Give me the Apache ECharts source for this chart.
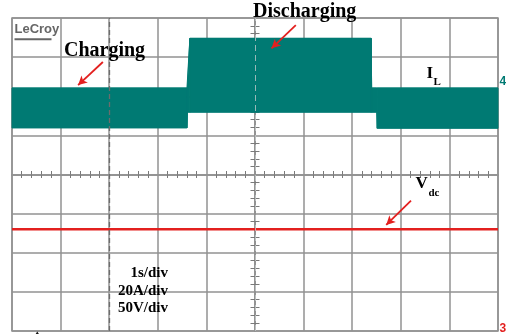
<!DOCTYPE html>
<html>
<head>
<meta charset="utf-8">
<script src="https://cdn.jsdelivr.net/npm/echarts@6/dist/echarts.min.js"></script>
<style>
  html, body { margin: 0; padding: 0; background: #ffffff; }
  #scope { width: 506px; height: 334px; }
</style>
</head>
<body>
<div id="scope"></div>
<script>
// ---- Captured waveforms ----
// Time base (s) of the inductor-current envelope
const timeS  = [0, 3.60, 3.61, 3.66, 7.39, 7.40, 7.505, 7.515, 10.0];
// Inductor current I_L ripple envelope (A): upper and lower edge of the trace
const iLHigh = [0.2, 0.2, 0.2, 25.6, 25.6, 0.2, 0.2, 0.2, 0.2];
const iLLow  = [-20.2, -20.2, -12.2, -12.2, -12.2, -12.2, -12.2, -20.4, -20.4];
// DC-link voltage V_dc (V)
const vdcTime  = [0, 10];
const vdcValue = [130, 130];
// Vertical-scale readouts
const scaleLabels = ['1s/div', '20A/div', '50V/div'];
// Annotation arrows: [tStart, valueStart, tEnd, valueEnd]
const chargingArrow    = [1.87, 13.5, 1.36, 1.7];    // A
const dischargingArrow = [5.84, 32.4, 5.34, 20.5];   // A
const vdcArrow         = [8.21, 166.5, 7.70, 135.5]; // V
const triggerTime = 0.52;

// ---- Scope settings ----
const DIVS_X = 10, DIVS_Y = 8;
const SEC_PER_DIV = 1, AMP_PER_DIV = 20, VOLT_PER_DIV = 50;
const CH4_GROUND_DIV = 1.8;   // current ground, divisions below the top edge
const ampMax = CH4_GROUND_DIV * AMP_PER_DIV;
const ampMin = ampMax - DIVS_Y * AMP_PER_DIV;
const voltMin = 0, voltMax = DIVS_Y * VOLT_PER_DIV;

const GRID_COLOR = '#929292';
const TICK_COLOR = '#7a7a7a';
const TEAL = '#007a73';
const RED = '#e3201f';
const SERIF = '"Liberation Serif", "DejaVu Serif", serif';

const chart = echarts.init(document.getElementById('scope'), null, { renderer: 'canvas' });

const noLabels = { axisLabel: { show: false }, axisTick: { show: false }, splitLine: { show: false } };

function arrowLine(a) {
  return [
    { coord: [a[0], a[1]], symbol: 'none' },
    { coord: [a[2], a[3]], symbol: 'arrow' }
  ];
}

const bandSegments = timeS.slice(1).map((t, i) =>
  [timeS[i], t, iLHigh[i], iLLow[i], iLHigh[i + 1], iLLow[i + 1]]);

chart.setOption({
  animation: false,
  backgroundColor: '#ffffff',
  grid: { left: 12, right: 8, top: 18, bottom: 3, show: true, borderColor: GRID_COLOR, borderWidth: 1.5 },
  xAxis: [
    { // time divisions, center line with downward minor ticks
      type: 'value', min: 0, max: DIVS_X * SEC_PER_DIV, interval: SEC_PER_DIV, position: 'bottom',
      axisLine: { show: true, onZero: true, onZeroAxisIndex: 0, lineStyle: { color: GRID_COLOR, width: 1.5 } },
      axisTick: { show: false }, axisLabel: { show: false },
      minorTick: { show: true, splitNumber: 5, length: 3.5, lineStyle: { color: TICK_COLOR, width: 1 } },
      splitLine: { show: true, lineStyle: { color: GRID_COLOR, width: 1.5 } }
    },
    { // same center line, upward minor ticks
      type: 'value', min: 0, max: DIVS_X * SEC_PER_DIV, interval: SEC_PER_DIV, position: 'top',
      axisLine: { show: true, onZero: true, onZeroAxisIndex: 0, lineStyle: { color: GRID_COLOR, width: 1.5 } },
      axisTick: { show: false }, axisLabel: { show: false }, splitLine: { show: false },
      minorTick: { show: true, splitNumber: 5, length: 3.5, lineStyle: { color: TICK_COLOR, width: 1 } }
    },
    { // horizontal divisions centered on zero, used to place the vertical center line
      type: 'value', show: false, min: -DIVS_X / 2, max: DIVS_X / 2, ...noLabels
    }
  ],
  yAxis: [
    {
      type: 'value', min: -DIVS_Y / 2, max: DIVS_Y / 2, interval: 1, position: 'left',
      axisLine: { show: true, onZero: true, onZeroAxisIndex: 2, lineStyle: { color: GRID_COLOR, width: 1.5 } },
      axisTick: { show: false }, axisLabel: { show: false },
      minorTick: { show: true, splitNumber: 5, length: 4.5, lineStyle: { color: TICK_COLOR, width: 1 } },
      splitLine: { show: true, lineStyle: { color: GRID_COLOR, width: 1.5 } }
    },
    {
      type: 'value', min: -DIVS_Y / 2, max: DIVS_Y / 2, interval: 1, position: 'right',
      axisLine: { show: true, onZero: true, onZeroAxisIndex: 2, lineStyle: { color: GRID_COLOR, width: 1.5 } },
      axisTick: { show: false }, axisLabel: { show: false }, splitLine: { show: false },
      minorTick: { show: true, splitNumber: 5, length: 4.5, lineStyle: { color: TICK_COLOR, width: 1 } }
    },
    { type: 'value', show: false, min: ampMin, max: ampMax, ...noLabels },   // current, A
    { type: 'value', show: false, min: voltMin, max: voltMax, ...noLabels }  // voltage, V
  ],
  series: [
    {
      name: 'I_L', type: 'custom', xAxisIndex: 0, yAxisIndex: 2, z: 2,
      encode: { x: [0, 1], y: [2, 3, 4, 5] },
      data: bandSegments,
      renderItem(params, api) {
        const t0 = api.value(0), t1 = api.value(1);
        const pts = [
          api.coord([t0, api.value(2)]), api.coord([t1, api.value(4)]),
          api.coord([t1, api.value(5)]), api.coord([t0, api.value(3)])
        ];
        return { type: 'polygon', shape: { points: pts }, style: { fill: TEAL, stroke: TEAL, lineWidth: 1 } };
      }
    },
    {
      name: 'I_L edge', type: 'line', xAxisIndex: 0, yAxisIndex: 2, z: 3,
      data: timeS.map((t, i) => [t, iLHigh[i]]),
      symbol: 'none', lineStyle: { color: TEAL, width: 1 },
      markLine: {
        silent: true, animation: false, symbol: ['none', 'none'], symbolSize: [7, 9],
        label: { show: false },
        lineStyle: { color: RED, width: 1.8, type: 'solid' },
        data: [
          arrowLine(chargingArrow),
          arrowLine(dischargingArrow),
          { xAxis: 2, lineStyle: { color: '#6c6c6c', width: 1.3, type: [5, 3] } },
          { xAxis: 5, lineStyle: { color: 'rgba(200,205,205,0.75)', width: 1, type: [6, 4] } }
        ]
      }
    },
    {
      name: 'V_dc', type: 'line', xAxisIndex: 0, yAxisIndex: 3, z: 4,
      data: vdcTime.map((t, i) => [t, vdcValue[i]]),
      symbol: 'none', lineStyle: { color: RED, width: 2.5 },
      markLine: {
        silent: true, animation: false, symbol: ['none', 'none'], symbolSize: [7, 9],
        label: { show: false },
        lineStyle: { color: RED, width: 1.8, type: 'solid' },
        data: [arrowLine(vdcArrow)]
      },
      markPoint: {
        silent: true, animation: false,
        data: [{ coord: [triggerTime, voltMin], symbol: 'triangle', symbolSize: [9, 7], symbolOffset: [0, 4],
                 itemStyle: { color: '#111' }, label: { show: false } }]
      }
    }
  ]
});

// ---- Text annotations ----
const ch4Ground = chart.convertToPixel({ yAxisIndex: 2 }, 0);
const ch3Ground = chart.convertToPixel({ yAxisIndex: 3 }, voltMin);

function txt(x, y, text, font, fill, align) {
  return { type: 'text', x, y, z: 10, silent: true,
           style: { text, font, fill: fill || '#000', align: align || 'left', verticalAlign: 'middle' } };
}

chart.setOption({
  graphic: [
    txt(14.5, 29.5, 'LeCroy', 'bold 13px "Liberation Sans"', '#666666'),
    { type: 'rect', z: 10, silent: true, shape: { x: 14.5, y: 38.3, width: 37, height: 2 }, style: { fill: '#666666' } },
    txt(64, 50.4, 'Charging', 'bold 20px ' + SERIF),
    txt(253, 11.9, 'Discharging', 'bold 20px ' + SERIF),
    txt(426.5, 73.7, 'I', 'bold 17px ' + SERIF),
    txt(433.5, 81.9, 'L', 'bold 11px ' + SERIF),
    txt(415.5, 183.7, 'V', 'bold 17px ' + SERIF),
    txt(428.5, 193.1, 'dc', 'bold 11px ' + SERIF),
    txt(168, 273.5, scaleLabels[0], 'bold 15px ' + SERIF, '#000', 'right'),
    txt(168, 291.0, scaleLabels[1], 'bold 15px ' + SERIF, '#000', 'right'),
    txt(168, 308.5, scaleLabels[2], 'bold 15px ' + SERIF, '#000', 'right'),
    txt(499.5, ch4Ground - 6.5, '4', 'bold 12px "Liberation Sans"', TEAL),
    txt(499.5, ch3Ground - 2, '3', 'bold 12px "Liberation Sans"', RED)
  ]
});
</script>
</body>
</html>
